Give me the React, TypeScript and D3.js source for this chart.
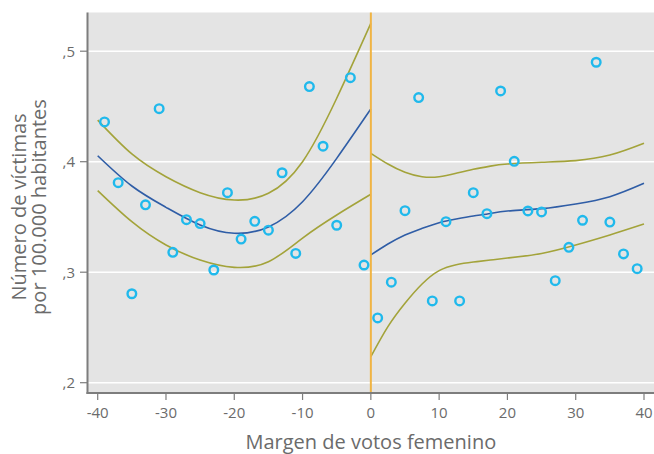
import * as d3 from "d3";

// scatter: municipalities, left/right of cutoff
const leftX = [-39, -37, -35, -33, -31, -29, -27, -25, -23, -21, -19, -17, -15, -13, -11, -9, -7, -5, -3, -1];
const leftY = [0.436, 0.381, 0.2805, 0.361, 0.448, 0.318, 0.3475, 0.344, 0.302, 0.372, 0.33, 0.346, 0.338, 0.39, 0.317, 0.468, 0.414, 0.3425, 0.476, 0.3065];
const rightX = [1, 3, 5, 7, 9, 11, 13, 15, 17, 19, 21, 23, 25, 27, 29, 31, 33, 35, 37, 39];
const rightY = [0.2586, 0.291, 0.3557, 0.458, 0.274, 0.3457, 0.274, 0.372, 0.353, 0.464, 0.4003, 0.3554, 0.3545, 0.2923, 0.3225, 0.347, 0.49, 0.3454, 0.3165, 0.3032];

// fitted polynomial + confidence band
const leftFitX = [-40, -35, -30, -25, -20, -15, -10, -5, 0];
const leftFit = [0.4054, 0.378, 0.3587, 0.3427, 0.3352, 0.341, 0.3638, 0.403, 0.4477];
const leftUpper = [0.4376, 0.407, 0.3864, 0.372, 0.3653, 0.3714, 0.4, 0.4574, 0.5252];
const leftLower = [0.3738, 0.3457, 0.3246, 0.311, 0.3044, 0.3095, 0.3309, 0.3518, 0.3705];

const rightFitX = [0, 2.5, 5, 7.5, 10, 12.5, 15, 17.5, 20, 25, 30, 35, 40];
const rightFit = [0.3156, 0.3255, 0.3337, 0.3397, 0.3448, 0.3481, 0.3508, 0.3532, 0.3554, 0.3575, 0.3617, 0.3683, 0.3804];
const rightUpper = [0.4076, 0.3979, 0.3904, 0.3864, 0.3864, 0.3895, 0.3931, 0.396, 0.3979, 0.3995, 0.401, 0.406, 0.4167];
const rightLower = [0.2235, 0.2507, 0.2719, 0.2893, 0.3014, 0.3068, 0.3092, 0.311, 0.3128, 0.317, 0.3246, 0.3337, 0.3436];

const xTicks = [-40, -30, -20, -10, 0, 10, 20, 30, 40];
const yTicks = [0.2, 0.3, 0.4, 0.5];
const yTickLabels = [",2", ",3", ",4", ",5"];

const W = 654;
const H = 454;
const plotLeft = 87.5;
const plotRight = 654;
const plotTop = 12.5;
const plotBottom = 393;

const FONT = "'Open Sans', sans-serif";
const TEXT = "#6b6b6b";
const AXIS = "#7d7d7d";

export default function App() {
  const x = d3.scaleLinear().domain([-40, 40]).range([97.7, 644]);
  const y = d3.scaleLinear().domain([0.2, 0.5]).range([382.7, 51.2]);

  const line = d3
    .line<[number, number]>()
    .x((d) => x(d[0]))
    .y((d) => y(d[1]))
    .curve(d3.curveNatural);

  const curves = [
    { xs: leftFitX, ys: leftUpper, color: "#a3a33a" },
    { xs: leftFitX, ys: leftLower, color: "#a3a33a" },
    { xs: leftFitX, ys: leftFit, color: "#2f5da6" },
    { xs: rightFitX, ys: rightUpper, color: "#a3a33a" },
    { xs: rightFitX, ys: rightLower, color: "#a3a33a" },
    { xs: rightFitX, ys: rightFit, color: "#2f5da6" },
  ];

  const points = [
    ...leftX.map((v, i) => [v, leftY[i]]),
    ...rightX.map((v, i) => [v, rightY[i]]),
  ];

  return (
    <svg
      width={W}
      height={H}
      style={{ position: "absolute", left: 0, top: 0 }}
      fontFamily={FONT}
    >
      <rect x={0} y={0} width={W} height={H} fill="#fff" />
      <rect
        x={plotLeft}
        y={plotTop}
        width={plotRight - plotLeft}
        height={plotBottom - plotTop}
        fill="#e4e4e4"
      />
      {yTicks.map((t) => (
        <line
          key={t}
          x1={plotLeft}
          x2={plotRight}
          y1={y(t)}
          y2={y(t)}
          stroke="#fff"
          strokeWidth={1.6}
        />
      ))}

      {curves.map((c, i) => (
        <path
          key={i}
          d={line(c.xs.map((v, j) => [v, c.ys[j]]) as [number, number][]) || ""}
          fill="none"
          stroke={c.color}
          strokeWidth={1.6}
        />
      ))}

      <line
        x1={x(0)}
        x2={x(0)}
        y1={plotTop}
        y2={plotBottom}
        stroke="#f0b444"
        strokeWidth={2}
      />

      {points.map((p, i) => (
        <circle
          key={i}
          cx={x(p[0])}
          cy={y(p[1])}
          r={4.3}
          fill="none"
          stroke="#20b9ec"
          strokeWidth={2.4}
        />
      ))}

      {/* axes */}
      <line x1={plotLeft} x2={plotLeft} y1={plotTop} y2={plotBottom + 1} stroke={AXIS} strokeWidth={2} />
      <line x1={plotLeft - 1} x2={plotRight} y1={plotBottom} y2={plotBottom} stroke={AXIS} strokeWidth={2} />

      {yTicks.map((t, i) => (
        <g key={t}>
          <line x1={80} x2={plotLeft} y1={y(t)} y2={y(t)} stroke={AXIS} strokeWidth={1.2} />
          <text
            x={75}
            y={y(t)}
            dy="0.36em"
            textAnchor="end"
            fontSize={15}
            fill={TEXT}
          >
            {yTickLabels[i]}
          </text>
        </g>
      ))}

      {xTicks.map((t) => (
        <g key={t}>
          <line x1={x(t)} x2={x(t)} y1={plotBottom} y2={plotBottom + 7} stroke={AXIS} strokeWidth={1.2} />
          <text
            x={x(t)}
            y={418}
            textAnchor="middle"
            fontSize={15}
            fill={TEXT}
          >
            {t}
          </text>
        </g>
      ))}

      <text
        x={x(0)}
        y={449}
        textAnchor="middle"
        fontSize={20}
        fill={TEXT}
      >
        Margen de votos femenino
      </text>

      <g transform="translate(26,207) rotate(-90)">
        <text x={0} y={0} textAnchor="middle" fontSize={20} fill={TEXT}>
          Número de víctimas
        </text>
        <text x={0} y={20} textAnchor="middle" fontSize={20} fill={TEXT}>
          por 100.000 habitantes
        </text>
      </g>
    </svg>
  );
}
